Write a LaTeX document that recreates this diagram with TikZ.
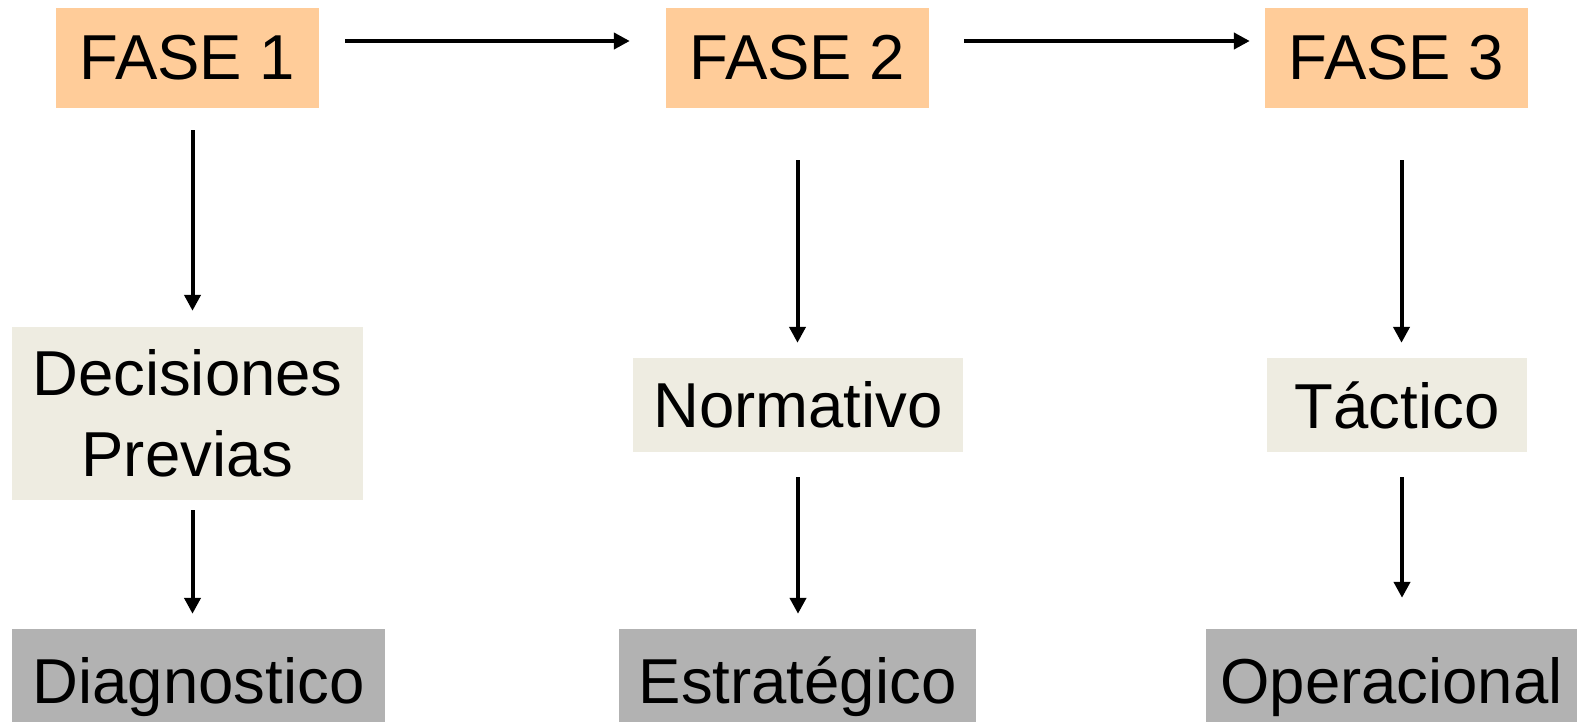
\documentclass[tikz,border=0pt]{standalone}
\usepackage{fontspec}
\setmainfont{Liberation Sans}
\usepackage{tikz}
\usetikzlibrary{arrows.meta,positioning}

\definecolor{fasecol}{HTML}{FFCC99}
\definecolor{nivelcol}{HTML}{EEECE1}
\definecolor{salidacol}{HTML}{B2B2B2}

\begin{document}
\begin{tikzpicture}[
        x=1pt, y=-1pt,
        every node/.style={inner sep=0pt, align=center, font=\fontsize{63.5}{81}\selectfont},
        fase/.style={rectangle, fill=fasecol, minimum width=263pt, minimum height=100pt},
        nivel/.style={rectangle, fill=nivelcol, minimum height=94pt},
        salida/.style={rectangle, fill=salidacol, minimum height=116pt},
        flecha/.style={line width=4pt, -{Triangle[length=16pt,width=16pt]}}
    ]
    \useasboundingbox (0,0) rectangle (1589,721);
    \node[fase] (f1) at (187.5,58) {FASE 1};
    \node[fase] (f2) at (797.5,58) {FASE 2};
    \node[fase] (f3) at (1396.5,58) {FASE 3};
    \node[nivel, minimum width=351pt, minimum height=173pt] (dp) at (187.5,413.5) {Decisiones\\Previas};
    \node[nivel, minimum width=330pt] (norm) at (798,405) {Normativo};
    \node[nivel, minimum width=260pt] (tact) at (1397,405) {Táctico};
    \node[salida, minimum width=373pt] (diag) at (198.5,687) {Diagnostico};
    \node[salida, minimum width=357pt] (estr) at (797.5,687) {Estratégico};
    \node[salida, minimum width=371pt] (oper) at (1391.5,687) {Operacional};

    \draw[flecha, shorten <=26pt, shorten >=36pt] (f1.east |- 0,41) -- (f2.west |- 0,41);
    \draw[flecha, shorten <=35pt, shorten >=15pt] (f2.east |- 0,41) -- (f3.west |- 0,41);
    \draw[flecha, shorten <=22pt, shorten >=16pt] ([xshift=5pt]f1.south) -- ([xshift=5pt]dp.north);
    \draw[flecha, shorten <=10pt, shorten >=15pt] ([xshift=5pt]dp.south) -- ([xshift=5pt]dp.south |- diag.north);
    \draw[flecha, shorten <=52pt, shorten >=15pt] (f2.south) -- (f2.south |- norm.north);
    \draw[flecha, shorten <=25pt, shorten >=15pt] (norm.south) -- (norm.south |- estr.north);
    \draw[flecha, shorten <=52pt, shorten >=15pt] ([xshift=5pt]f3.south) -- ([xshift=5pt]f3.south |- tact.north);
    \draw[flecha, shorten <=25pt, shorten >=31pt] ([xshift=5pt]tact.south) -- ([xshift=5pt]tact.south |- oper.north);
\end{tikzpicture}
\end{document}
